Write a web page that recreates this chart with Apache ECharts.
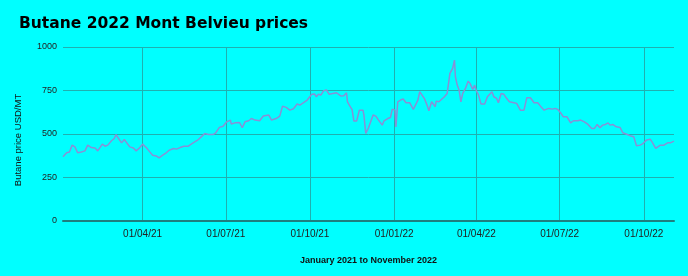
<!DOCTYPE html>
<html>
<head>
<meta charset="utf-8">
<script src="https://cdn.jsdelivr.net/npm/echarts@6/dist/echarts.min.js"></script>
<style>
html,body{margin:0;padding:0;background:#00ffff;}
#c{width:688px;height:276px;}
</style>
</head>
<body>
<div id="c"></div>
<script>
const titleText = 'Butane 2022 Mont Belvieu prices';
const yAxisName = 'Butane price USD/MT';
const xAxisName = 'January 2021 to November 2022';
const yTicks = [0, 250, 500, 750, 1000];

const dates = [
'2021-01-04','2021-01-08','2021-01-11','2021-01-14','2021-01-17','2021-01-20','2021-01-24','2021-01-28','2021-01-31',
'2021-02-04','2021-02-08','2021-02-11','2021-02-16','2021-02-19','2021-02-22','2021-02-26',
'2021-03-01','2021-03-03','2021-03-05','2021-03-09','2021-03-12','2021-03-14','2021-03-18','2021-03-22','2021-03-25','2021-03-29',
'2021-04-01','2021-04-05','2021-04-08','2021-04-12','2021-04-16','2021-04-19','2021-04-23','2021-04-26','2021-04-30',
'2021-05-05','2021-05-08','2021-05-12','2021-05-16','2021-05-21','2021-05-25','2021-05-28',
'2021-06-01','2021-06-05','2021-06-08','2021-06-12','2021-06-17','2021-06-20','2021-06-24','2021-06-28',
'2021-07-02','2021-07-06','2021-07-07','2021-07-11','2021-07-16','2021-07-19','2021-07-22','2021-07-26','2021-07-29',
'2021-08-02','2021-08-07','2021-08-11','2021-08-17','2021-08-20','2021-08-25','2021-08-29',
'2021-09-01','2021-09-05','2021-09-09','2021-09-13','2021-09-17','2021-09-20','2021-09-24','2021-09-28','2021-09-30',
'2021-10-03','2021-10-06','2021-10-08','2021-10-10','2021-10-13','2021-10-16','2021-10-19','2021-10-22','2021-10-26','2021-10-30',
'2021-11-01','2021-11-04','2021-11-07','2021-11-10','2021-11-11','2021-11-14','2021-11-16','2021-11-18','2021-11-21','2021-11-24','2021-11-28','2021-11-29',
'2021-12-01','2021-12-04','2021-12-06','2021-12-09','2021-12-12','2021-12-15','2021-12-19','2021-12-21','2021-12-25','2021-12-28','2021-12-30',
'2022-01-02','2022-01-03','2022-01-05','2022-01-08','2022-01-11','2022-01-14','2022-01-18','2022-01-22','2022-01-24','2022-01-27','2022-01-29','2022-01-31',
'2022-02-03','2022-02-06','2022-02-08','2022-02-11','2022-02-15','2022-02-16','2022-02-19','2022-02-21','2022-02-25','2022-02-28',
'2022-03-03','2022-03-06','2022-03-08','2022-03-09','2022-03-11','2022-03-13','2022-03-15','2022-03-17','2022-03-20','2022-03-23','2022-03-25','2022-03-28','2022-03-30',
'2022-04-01','2022-04-03','2022-04-06','2022-04-10','2022-04-13','2022-04-15','2022-04-18','2022-04-20','2022-04-23','2022-04-25','2022-04-28',
'2022-05-01','2022-05-04','2022-05-07','2022-05-12','2022-05-15','2022-05-19','2022-05-23','2022-05-26','2022-05-30',
'2022-06-03','2022-06-07','2022-06-10','2022-06-14','2022-06-16','2022-06-19','2022-06-23','2022-06-26','2022-06-29',
'2022-07-02','2022-07-05','2022-07-09','2022-07-13','2022-07-16','2022-07-21','2022-07-24','2022-07-28',
'2022-08-01','2022-08-05','2022-08-08','2022-08-11','2022-08-14','2022-08-17','2022-08-20','2022-08-23','2022-08-25','2022-08-28',
'2022-09-01','2022-09-05','2022-09-08','2022-09-13','2022-09-17','2022-09-20','2022-09-23','2022-09-27','2022-09-30',
'2022-10-04','2022-10-08','2022-10-10','2022-10-14','2022-10-16','2022-10-19','2022-10-23','2022-10-27','2022-10-30',
'2022-11-03'
];

const prices = [
369,392,397,436,426,392,397,403,436,
422,420,403,442,430,436,461,
474,497,480,449,468,459,426,420,403,422,
442,422,403,378,374,363,378,388,407,
417,413,422,430,430,445,455,
468,488,503,497,497,507,538,545,
570,580,557,564,566,536,570,576,589,
580,576,603,609,580,589,603,
660,653,637,645,672,666,680,695,699,
728,730,714,728,724,749,753,728,733,737,
743,718,720,737,685,657,641,574,574,637,637,609,
503,536,541,609,603,580,551,576,589,595,643,
637,541,685,695,701,680,680,641,637,695,743,743,
705,666,634,685,657,689,685,695,714,733,
849,877,925,829,781,753,685,733,762,804,791,756,781,
747,728,672,672,714,724,743,714,705,680,733,
728,705,685,680,676,637,637,708,708,
680,680,660,637,641,647,643,647,641,
622,599,599,564,576,576,580,570,
555,532,532,555,536,551,555,564,551,555,
541,538,507,497,488,484,432,436,445,
465,470,455,417,417,436,436,449,449,
459
];

const seriesData = dates.map((d, i) => [d, prices[i]]);

function pad(n){ return (n < 10 ? '0' : '') + n; }

const chart = echarts.init(document.getElementById('c'), null, {renderer: 'canvas'});
chart.setOption({
  backgroundColor: '#00ffff',
  animation: false,
  title: {
    text: titleText,
    left: 14,
    top: 11,
    textStyle: {fontFamily: 'DejaVu Sans', fontWeight: 'bold', fontSize: 15.5, color: '#000'}
  },
  grid: {left: 63, right: 14, top: 47, bottom: 55, containLabel: false},
  xAxis: {
    type: 'time',
    min: dates[0],
    max: dates[dates.length - 1],
    splitNumber: 7,
    minInterval: 90 * 86400000,
    maxInterval: 92 * 86400000,
    name: xAxisName,
    nameLocation: 'middle',
    nameGap: 35,
    nameTextStyle: {fontFamily: 'Liberation Sans', fontWeight: 'bold', fontSize: 9, color: '#111'},
    axisLine: {show: true, lineStyle: {color: '#1e7f7f', width: 2}},
    axisTick: {show: false},
    splitLine: {show: true, showMinLine: false, showMaxLine: false, lineStyle: {color: '#1fb0b0', width: 1}},
    axisLabel: {
      color: '#222',
      fontFamily: 'Liberation Sans',
      fontSize: 10,
      margin: 8,
      hideOverlap: false,
      showMinLabel: false,
      showMaxLabel: false,
      formatter: function (v) {
        const d = new Date(v);
        return pad(d.getDate()) + '/' + pad(d.getMonth() + 1) + '/' + pad(d.getFullYear() % 100);
      }
    }
  },
  yAxis: {
    type: 'value',
    min: yTicks[0],
    max: yTicks[yTicks.length - 1],
    interval: yTicks[1] - yTicks[0],
    name: yAxisName,
    nameLocation: 'middle',
    nameGap: 40,
    nameTextStyle: {fontFamily: 'Liberation Sans', fontSize: 9.5, color: '#111', padding: [0, 12, 0, 0]},
    axisLine: {show: false},
    axisTick: {show: false},
    splitLine: {show: true, lineStyle: {color: '#1fb0b0', width: 1}},
    axisLabel: {color: '#222', fontFamily: 'Liberation Sans', fontSize: 9, margin: 6, formatter: function (v) { return String(v); }}
  },
  series: [{
    type: 'line',
    data: seriesData,
    showSymbol: false,
    lineStyle: {color: '#8890d6', width: 1.5},
    itemStyle: {color: '#8890d6'}
  }]
});
</script>
</body>
</html>
